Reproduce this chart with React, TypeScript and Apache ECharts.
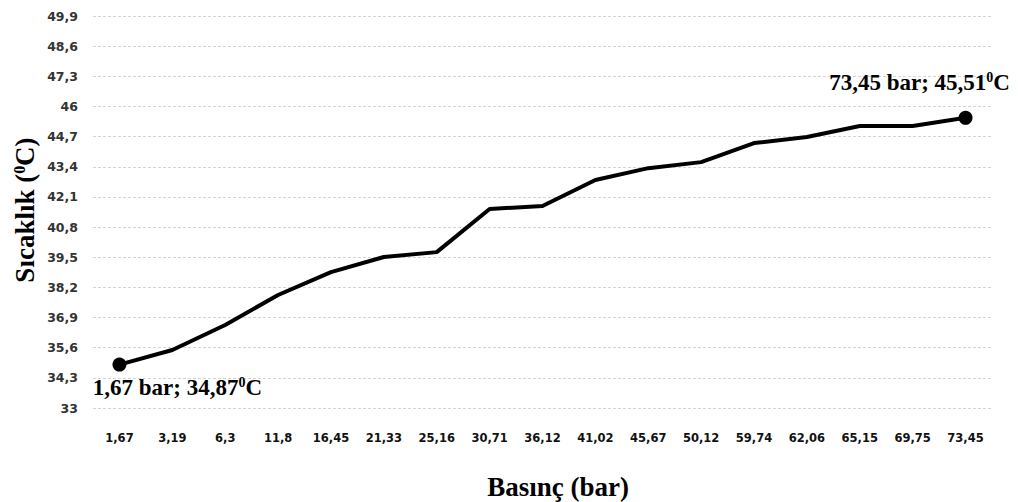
import React, { useEffect, useRef } from "react";
import * as echarts from "echarts";

// Pressure values along the category axis (bar)
const pressures: string[] = [
  "1,67", "3,19", "6,3", "11,8", "16,45", "21,33", "25,16", "30,71", "36,12",
  "41,02", "45,67", "50,12", "59,74", "62,06", "65,15", "69,75", "73,45",
];

// Temperature at each pressure (°C)
const temperatures: number[] = [
  34.87, 35.5, 36.58, 37.87, 38.86, 39.51, 39.72, 41.58, 41.71,
  42.83, 43.34, 43.6, 44.42, 44.68, 45.16, 45.16, 45.51,
];

// Value-axis ticks
const yTicks: number[] = [
  33, 34.3, 35.6, 36.9, 38.2, 39.5, 40.8, 42.1, 43.4, 44.7, 46, 47.3, 48.6, 49.9,
];

const xTitle = "Basınç (bar)";
// Rich-text title with a superscript degree zero
const yTitle = "{m|Sıcaklık (}{s|0}{m|C)}";

const fmtComma = (v: number, digits: number) =>
  Number(v.toFixed(digits)).toString().replace(".", ",");

const SERIF = "'Liberation Serif', 'Times New Roman', serif";

const supRich = (size: number, supSize: number) => ({
  m: {
    fontFamily: SERIF,
    fontWeight: "bold" as const,
    fontSize: size,
    lineHeight: size,
    color: "#000",
  },
  s: {
    fontFamily: SERIF,
    fontWeight: "bold" as const,
    fontSize: supSize,
    lineHeight: supSize,
    verticalAlign: "top" as const,
    color: "#000",
  },
});

export default function App() {
  const ref = useRef<HTMLDivElement>(null);

  useEffect(() => {
    document.body.style.margin = "0";
    if (!ref.current) return;
    const chart = echarts.init(ref.current, null, { renderer: "svg" });

    const last = temperatures.length - 1;
    const endLabel = (idx: number) =>
      `{m|${pressures[idx]} bar; ${fmtComma(temperatures[idx], 2)}}{s|0}{m|C}`;

    const seriesData = temperatures.map((t, i) => {
      if (i === 0) {
        return {
          value: t,
          symbol: "circle",
          symbolSize: 14,
          label: {
            show: true,
            position: "bottom",
            distance: 4,
            offset: [58, 0],
            formatter: () => endLabel(0),
            rich: supRich(23, 14),
          },
        };
      }
      if (i === last) {
        return {
          value: t,
          symbol: "circle",
          symbolSize: 14,
          label: {
            show: true,
            position: "top",
            distance: 4,
            offset: [-46, -13],
            formatter: () => endLabel(last),
            rich: supRich(23, 14),
          },
        };
      }
      return { value: t, symbol: "none" };
    });

    const interval = Number((yTicks[1] - yTicks[0]).toFixed(1));

    chart.setOption({
      animation: false,
      backgroundColor: "#fff",
      grid: { left: 93, right: 26, top: 16, bottom: 94 },
      xAxis: {
        type: "category",
        data: pressures,
        boundaryGap: true,
        axisLine: { show: false },
        axisTick: { show: false },
        axisLabel: {
          margin: 24,
          fontFamily: "'DejaVu Sans', Verdana, sans-serif",
          fontWeight: "bold",
          fontSize: 11.5,
          color: "#111",
          interval: 0,
        },
        splitLine: { show: false },
      },
      yAxis: {
        type: "value",
        min: yTicks[0],
        max: yTicks[yTicks.length - 1],
        interval,
        axisLine: { show: false },
        axisTick: { show: false },
        axisLabel: {
          margin: 15,
          fontFamily: "'DejaVu Sans', Verdana, sans-serif",
          fontWeight: "bold",
          fontSize: 12.5,
          color: "#333",
          formatter: (v: number) => fmtComma(v, 1),
        },
        splitLine: {
          show: true,
          lineStyle: { color: "#d4d4d4", width: 1, type: [3, 2] },
        },
      },
      series: [
        {
          type: "line",
          data: seriesData,
          symbol: "none",
          showSymbol: true,
          showAllSymbol: true,
          itemStyle: { color: "#000" },
          lineStyle: { color: "#000", width: 4 },
          z: 3,
        },
      ],
      graphic: [
        {
          type: "text",
          x: 25,
          y: 210,
          rotation: Math.PI / 2,
          style: {
            text: yTitle,
            rich: supRich(27, 16),
            textAlign: "center",
            textVerticalAlign: "middle",
          },
        },
        {
          type: "text",
          x: 558,
          y: 487,
          style: {
            text: xTitle,
            fill: "#000",
            font: `bold 27px ${SERIF}`,
            textAlign: "center",
            textVerticalAlign: "middle",
          },
        },
      ],
    });

    return () => chart.dispose();
  }, []);

  return (
    <div
      ref={ref}
      style={{ position: "fixed", left: 0, top: 0, width: 1018, height: 502 }}
    />
  );
}
